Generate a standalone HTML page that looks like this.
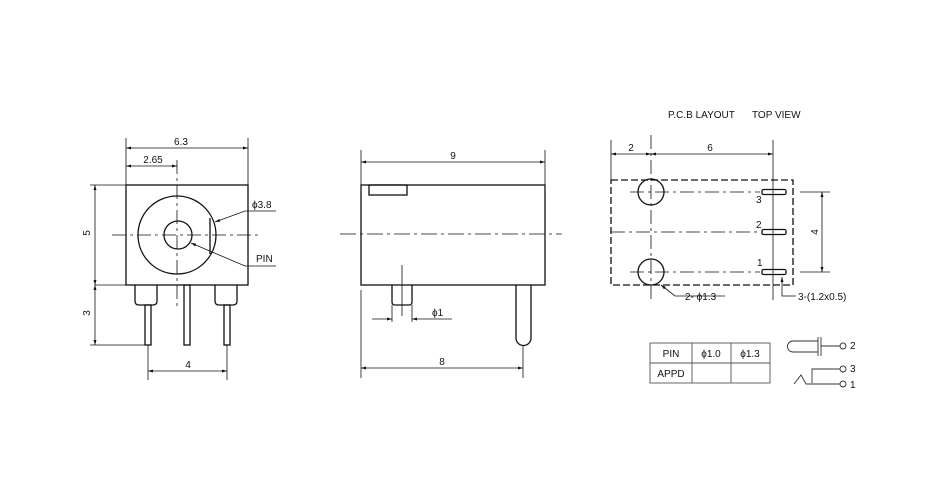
<!DOCTYPE html>
<html><head><style>body{margin:0;background:#fff}svg{display:block}text{font-family:"Liberation Sans",sans-serif;font-size:10px;fill:#111}</style></head><body>
<svg width="950" height="500" viewBox="0 0 950 500" xmlns="http://www.w3.org/2000/svg">
<defs><marker id="a" viewBox="0 0 10 10" refX="10" refY="5" markerWidth="8" markerHeight="5" orient="auto-start-reverse" markerUnits="userSpaceOnUse"><path d="M0,2 L10,5 L0,8z" fill="#111"/></marker></defs>
<g stroke="#111" fill="none" stroke-width="1.3">
<rect x="126" y="185" width="122" height="100"/>
<circle cx="177" cy="235" r="39"/>
<circle cx="178" cy="235" r="14"/>
<line x1="210" y1="218" x2="210" y2="254"/>
<path d="M135 285 V301 Q135 305 139 305 H153 Q157 305 157 301 V285"/>
<path d="M215 285 V301 Q215 305 219 305 H233 Q237 305 237 301 V285"/>
<rect x="145" y="305" width="6" height="40"/>
<rect x="184" y="285" width="6" height="60"/>
<rect x="224" y="305" width="6" height="40"/>
</g>
<g stroke="#111" fill="none" stroke-width="0.8">
<line x1="112" y1="235" x2="262" y2="235" stroke-dasharray="14,4,3,4"/>
<line x1="177" y1="160" x2="177" y2="310" stroke-dasharray="14,4,3,4"/>
<line x1="126" y1="138" x2="126" y2="185"/><line x1="248" y1="138" x2="248" y2="185"/>
<line x1="126" y1="148" x2="248" y2="148" marker-start="url(#a)" marker-end="url(#a)"/>
<line x1="126" y1="166" x2="177" y2="166" marker-start="url(#a)" marker-end="url(#a)"/>
<line x1="90" y1="185" x2="126" y2="185"/><line x1="90" y1="345" x2="145" y2="345"/><line x1="95" y1="285" x2="126" y2="285"/>
<line x1="95" y1="185" x2="95" y2="285" marker-start="url(#a)" marker-end="url(#a)"/>
<line x1="95" y1="285" x2="95" y2="345" marker-start="url(#a)" marker-end="url(#a)"/>
<line x1="148" y1="345" x2="148" y2="380"/><line x1="227" y1="345" x2="227" y2="380"/>
<line x1="148" y1="371" x2="227" y2="371" marker-start="url(#a)" marker-end="url(#a)"/>
<polyline points="276,211 245,211 215,222" marker-end="url(#a)"/>
<polyline points="276,266 245,266 191,243" marker-end="url(#a)"/>
<line x1="340" y1="234" x2="562" y2="234" stroke-dasharray="16,4,3,4"/>
<line x1="361" y1="150" x2="361" y2="185"/><line x1="545" y1="150" x2="545" y2="185"/>
<line x1="361" y1="162" x2="545" y2="162" marker-start="url(#a)" marker-end="url(#a)"/>
<line x1="361" y1="290" x2="361" y2="378"/><line x1="523" y1="345" x2="523" y2="378"/>
<line x1="361" y1="368" x2="523" y2="368" marker-start="url(#a)" marker-end="url(#a)"/>
<line x1="402" y1="265" x2="402" y2="316"/>
<line x1="392" y1="305" x2="392" y2="322"/><line x1="412" y1="305" x2="412" y2="322"/>
<line x1="372" y1="319" x2="392" y2="319" marker-end="url(#a)"/>
<line x1="452" y1="319" x2="412" y2="319" marker-end="url(#a)"/>
<line x1="611" y1="140" x2="611" y2="180"/><line x1="651" y1="135" x2="651" y2="300" stroke-dasharray="14,4,3,4"/><line x1="773" y1="140" x2="773" y2="300"/>
<line x1="611" y1="154" x2="651" y2="154" marker-start="url(#a)" marker-end="url(#a)"/>
<line x1="651" y1="154" x2="773" y2="154" marker-start="url(#a)" marker-end="url(#a)"/>
<line x1="630" y1="192" x2="760" y2="192" stroke-dasharray="14,4,3,4"/>
<line x1="611" y1="232" x2="760" y2="232" stroke-dasharray="14,4,3,4"/>
<line x1="630" y1="272" x2="760" y2="272" stroke-dasharray="14,4,3,4"/>
<line x1="800" y1="192" x2="830" y2="192"/><line x1="800" y1="272" x2="830" y2="272"/>
<line x1="822" y1="192" x2="822" y2="272" marker-start="url(#a)" marker-end="url(#a)"/>
<polyline points="725,296 675,296 661,285" marker-end="url(#a)"/>
<polyline points="796,296 782,296 782,277" marker-end="url(#a)"/>
</g>
<g stroke="#111" fill="none" stroke-width="1.3">
<rect x="361" y="185" width="184" height="100"/>
<rect x="369" y="185" width="38" height="10"/>
<path d="M392 285 V302 Q392 305 395 305 H409 Q412 305 412 302 V285"/>
<path d="M516 285 V338 A7.5 7.5 0 0 0 531 338 V285"/>
<rect x="611" y="180" width="182" height="105" stroke-dasharray="7,3"/>
<circle cx="651" cy="192" r="13"/><circle cx="651" cy="272" r="13"/>
<rect x="762" y="189.5" width="24" height="5" rx="1.5"/>
<rect x="762" y="229.5" width="24" height="5" rx="1.5"/>
<rect x="762" y="269.5" width="24" height="5" rx="1.5"/>
</g>
<g stroke="#555" fill="none" stroke-width="0.9">
<rect x="650" y="343" width="120" height="40"/>
<line x1="650" y1="363" x2="770" y2="363"/><line x1="692" y1="343" x2="692" y2="383"/><line x1="731" y1="343" x2="731" y2="383"/>
</g>
<g stroke="#333" fill="none" stroke-width="0.9">
<path d="M818 341 H793 A5.5 5.5 0 0 0 793 352 H818"/><line x1="818" y1="337" x2="818" y2="356"/><line x1="821" y1="337" x2="821" y2="356"/>
<line x1="821" y1="346" x2="840" y2="346"/><circle cx="843" cy="346" r="3"/>
<polyline points="840,369 812,369 812,383"/><circle cx="843" cy="369" r="3"/>
<polyline points="794,384 801,375 806,384 840,384"/><circle cx="843" cy="384" r="3"/>
</g>
<text x="181" y="145" text-anchor="middle">6.3</text>
<text x="153" y="163" text-anchor="middle">2.65</text>
<text x="252" y="208">ϕ3.8</text>
<text x="256" y="262">PIN</text>
<text x="93" y="236" text-anchor="middle" transform="rotate(-90 90 236)">5</text>
<text x="93" y="316" text-anchor="middle" transform="rotate(-90 90 316)">3</text>
<text x="188" y="368" text-anchor="middle">4</text>
<text x="453" y="159" text-anchor="middle">9</text>
<text x="442" y="365" text-anchor="middle">8</text>
<text x="432" y="316">ϕ1</text>
<text x="668" y="118">P.C.B LAYOUT</text><text x="752" y="118">TOP VIEW</text>
<text x="631" y="151" text-anchor="middle">2</text>
<text x="710" y="151" text-anchor="middle">6</text>
<text x="818" y="232" text-anchor="middle" transform="rotate(-90 818 232)">4</text>
<text x="756" y="203" font-size="9">3</text><text x="756" y="228" font-size="9">2</text><text x="757" y="266" font-size="9">1</text>
<text x="685" y="300">2- ϕ1.3</text>
<text x="798" y="300">3-(1.2x0.5)</text>
<text x="671" y="357" text-anchor="middle" font-size="9">PIN</text>
<text x="711" y="357" text-anchor="middle" font-size="9">ϕ1.0</text>
<text x="750" y="357" text-anchor="middle" font-size="9">ϕ1.3</text>
<text x="671" y="377" text-anchor="middle" font-size="9">APPD</text>
<text x="850" y="349" font-size="9">2</text><text x="850" y="372" font-size="9">3</text><text x="850" y="388" font-size="9">1</text>
</svg>
</body></html>
